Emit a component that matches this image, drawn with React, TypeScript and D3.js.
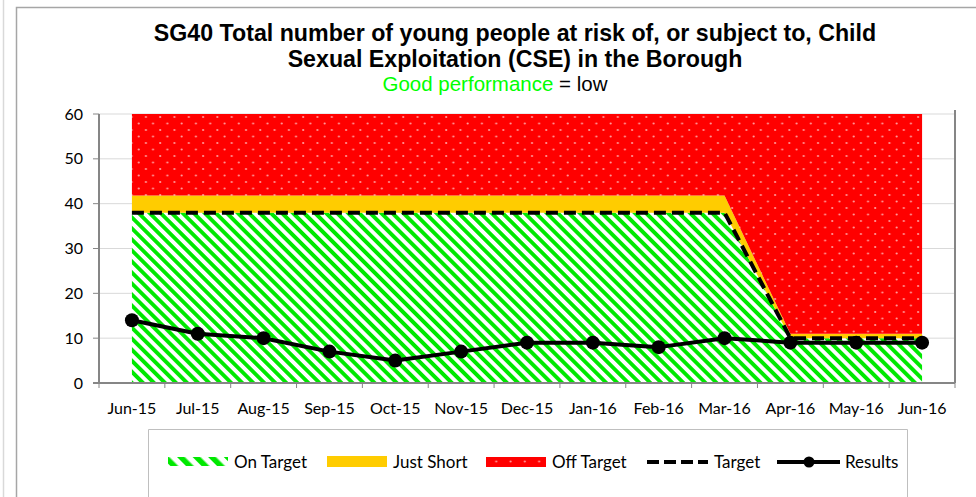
import React from "react";
import * as d3 from "d3";

const months = ["Jun-15","Jul-15","Aug-15","Sep-15","Oct-15","Nov-15","Dec-15","Jan-16","Feb-16","Mar-16","Apr-16","May-16","Jun-16"];
const target = [38,38,38,38,38,38,38,38,38,38,10,10,10];
const justShort = [3.8,3.8,3.8,3.8,3.8,3.8,3.8,3.8,3.8,3.8,1,1,1];
const offTarget = [18.2,18.2,18.2,18.2,18.2,18.2,18.2,18.2,18.2,18.2,49,49,49];
const results = [14,11,10,7,5,7,9,9,8,10,9,9,9];
const yTicks = [0,10,20,30,40,50,60];

const W = 976, H = 497;
const PL = 99, PR = 955, PT = 114, PB = 383;
const TICK_FONT = "Lato, 'Open Sans', sans-serif";

export default function App() {
  const x = d3.scalePoint<string>().domain(months).range([PL, PR]).padding(0.5);
  const y = d3.scaleLinear().domain([0, 60]).range([PB, PT]);
  const step = x.step();

  const rows = months.map((m, i) => ({ m, on: target[i], js: justShort[i], off: offTarget[i] }));
  const stack = d3.stack<any>().keys(["on", "js", "off"])(rows);
  const area = d3.area<any>().x((d: any) => x(d.data.m)!).y0((d: any) => y(d[0])).y1((d: any) => y(d[1]));
  const fills = ["url(#hatch)", "#FFCC00", "url(#dots)"];

  const targetLine = d3.line<number>().x((_, i) => x(months[i])!).y(d => y(d))(target)!;
  const resultLine = d3.line<number>().x((_, i) => x(months[i])!).y(d => y(d))(results)!;

  const boundaries = d3.range(months.length + 1).map(i => PL + i * step);

  return (
    <svg width={W} height={H} style={{ position: "absolute", left: 0, top: 0 }}>
      <defs>
        <pattern id="hatch" patternUnits="userSpaceOnUse" width="7.8" height="7.8" patternTransform="rotate(-45)">
          <rect width="7.8" height="7.8" fill="#ffffff" />
          <rect width="3.9" height="7.8" fill="#00E800" />
        </pattern>
        <pattern id="dots" patternUnits="userSpaceOnUse" width="14.3" height="13" x={PL} y={PT}>
          <rect width="14.3" height="13" fill="#FF0000" />
          <circle cx="4" cy="3" r="1.1" fill="#FF9A9A" />
          <circle cx="11.15" cy="9.5" r="1.1" fill="#FF9A9A" />
        </pattern>
        <pattern id="hatchLeg" patternUnits="userSpaceOnUse" width="11" height="11" patternTransform="rotate(-45)">
          <rect width="11" height="11" fill="#ffffff" />
          <rect width="5.5" height="11" fill="#00E800" />
        </pattern>
      </defs>
      <rect width={W} height={H} fill="#fff" />
      {/* outer frames */}
      <line x1={3.5} y1={0} x2={3.5} y2={H} stroke="#d9d9d9" strokeWidth={1.5} />
      <path d={`M16.5,${H} V7.5 H${W}`} fill="none" stroke="#a6a6a6" strokeWidth={1.5} />

      {/* title */}
      <g fontFamily="'Liberation Sans', Arial, sans-serif" textAnchor="middle">
        <text x={515} y={41} fontSize={23.2} fontWeight="bold" fill="#000">SG40 Total number of young people at risk of, or subject to, Child</text>
        <text x={515} y={67} fontSize={23.2} fontWeight="bold" fill="#000">Sexual Exploitation (CSE) in the Borough</text>
        <text x={495} y={91} fontSize={20.5} fill="#000">
          <tspan fill="#00FF00">Good performance</tspan><tspan> = low</tspan>
        </text>
      </g>

      {/* gridlines */}
      {yTicks.filter(t => t > 0).map(t => (
        <line key={t} x1={PL} x2={PR} y1={y(t)} y2={y(t)} stroke="#d9d9d9" strokeWidth={1} />
      ))}

      {/* stacked areas */}
      {stack.map((s, i) => (
        <path key={i} d={area(s as any)!} fill={fills[i]} />
      ))}

      {/* target */}
      <path d={targetLine} fill="none" stroke="#000" strokeWidth={4} strokeDasharray="12,6" />
      {/* results */}
      <path d={resultLine} fill="none" stroke="#000" strokeWidth={4} strokeLinejoin="round" />
      {results.map((v, i) => (
        <circle key={i} cx={x(months[i])} cy={y(v)} r={7} fill="#000" />
      ))}

      {/* axes */}
      <line x1={PL} x2={PL} y1={PT} y2={PB} stroke="#868686" strokeWidth={2} />
      <line x1={PR} x2={PR} y1={PT - 4} y2={PB} stroke="#868686" strokeWidth={2} />
      <line x1={PL - 6} x2={PR} y1={PB} y2={PB} stroke="#868686" strokeWidth={2} />
      {yTicks.map(t => (
        <g key={t}>
          <line x1={PL - 6} x2={PL} y1={y(t)} y2={y(t)} stroke="#868686" strokeWidth={1} />
          <text x={83} y={y(t) + 5.5} textAnchor="end" fontFamily={TICK_FONT} fontSize={16} fill="#000">{t}</text>
        </g>
      ))}
      {boundaries.map((b, i) => (
        <line key={i} x1={b} x2={b} y1={PB} y2={PB + 5} stroke="#868686" strokeWidth={1} />
      ))}
      {months.map(m => (
        <text key={m} x={x(m)} y={414} textAnchor="middle" fontFamily={TICK_FONT} fontSize={16} fill="#000">{m}</text>
      ))}

      {/* legend */}
      <path d={`M148.5,${H} V429.5 H907.5 V${H}`} fill="none" stroke="#bfbfbf" strokeWidth={1} />
      <g fontFamily={TICK_FONT} fontSize={17} fill="#000">
        <rect x={168} y={457} width={60} height={9} fill="url(#hatchLeg)" />
        <text x={234} y={468}>On Target</text>
        <rect x={327} y={456} width={60} height={11} fill="#FFCC00" />
        <text x={393} y={468}>Just Short</text>
        <rect x={486} y={457} width={60} height={10} fill="url(#dots)" />
        <text x={552} y={468}>Off Target</text>
        <line x1={647} x2={708} y1={462} y2={462} stroke="#000" strokeWidth={4} strokeDasharray="12,5" />
        <text x={714} y={468}>Target</text>
        <line x1={777} x2={840} y1={462} y2={462} stroke="#000" strokeWidth={4} />
        <circle cx={809} cy={462} r={5.5} fill="#000" />
        <text x={845} y={468}>Results</text>
      </g>
    </svg>
  );
}
